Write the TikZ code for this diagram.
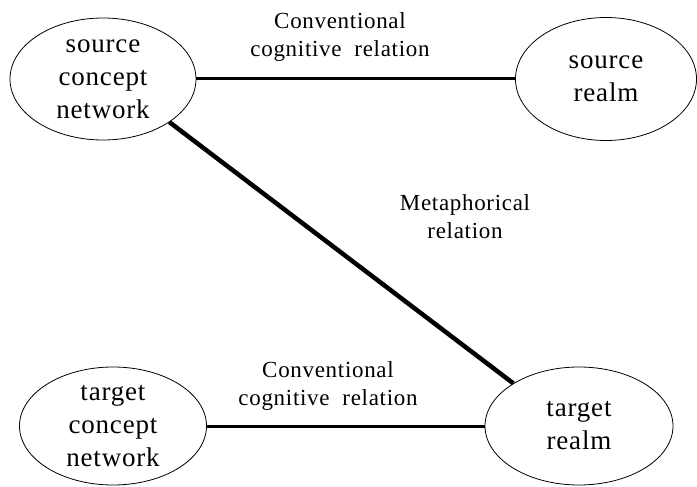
\documentclass[tikz,border=0pt]{standalone}
\usepackage{fontspec}
\setmainfont{Liberation Serif}[LetterSpace=3]
\usetikzlibrary{shapes.geometric}

\begin{document}
\begin{tikzpicture}[x=1pt,y=-1pt,
    realm/.style={ellipse,draw,line width=0.8pt,inner sep=-12pt,align=center,font=\fontsize{27}{33}\selectfont},
    relline/.style={line width=3pt},
    metaline/.style={line width=4.5pt},
    rellabel/.style={anchor=north,inner sep=0pt,align=center,font=\fontsize{23}{28}\selectfont}]
    \useasboundingbox (0,0) rectangle (697,487);

    % Source side
    \node[realm,minimum width=186pt,minimum height=122pt] (srcnet) at (103,79) {source\\concept\\network};
    \node[realm,minimum width=181pt,minimum height=123pt] (srcrealm) at (606,79) {source\\realm};
    \draw[relline] (srcnet) -- (srcrealm);
    \node[rellabel] (convtop) at (340,12) {Conventional\\cognitive\ \ relation};

    % Target side
    \node[realm,minimum width=187pt,minimum height=118pt] (trgnet) at (113,426) {target\\concept\\network};
    \node[realm,minimum width=188pt,minimum height=118pt] (trgrealm) at (579,426) {target\\realm};
    \draw[relline] (trgnet) -- (trgrealm);
    \node[rellabel] (convbot) at (328,361) {Conventional\\cognitive\ \ relation};

    % Metaphorical link
    \draw[metaline] (srcnet.-33) -- (trgrealm.147);
    \node[rellabel] (metalbl) at (465,194) {Metaphorical\\relation};
\end{tikzpicture}
\end{document}
